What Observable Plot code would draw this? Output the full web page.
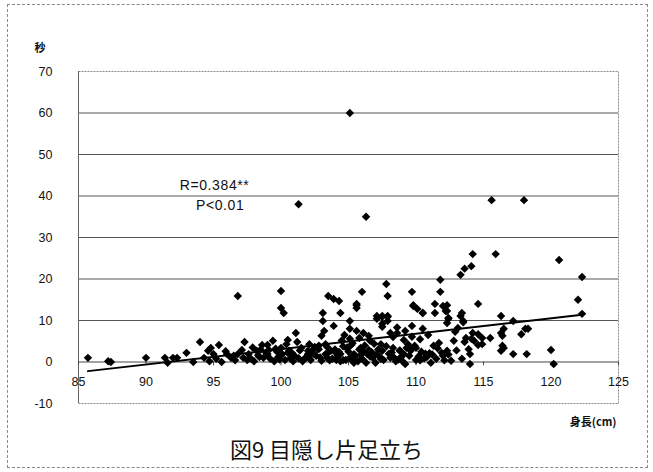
<!DOCTYPE html>
<html>
<head>
<meta charset="utf-8">
<script src="https://cdn.jsdelivr.net/npm/d3@7"></script>
<script src="https://cdn.jsdelivr.net/npm/@observablehq/plot@0.6"></script>
<style>
  html, body { margin: 0; padding: 0; background: #fff; }
  #page { position: relative; width: 653px; height: 472px; overflow: hidden; }
  #border { position: absolute; left: 7px; top: 4px; width: 641px; height: 464px; border: 1px dashed #888; box-sizing: border-box; }
  #chart { position: absolute; left: 0; top: 0; }
  #title { position: absolute; left: 0; width: 653px; top: 432px; text-align: center;
           font-family: "Noto Sans CJK JP", "Noto Sans", sans-serif; font-size: 22px; color: #111; }
</style>
</head>
<body>
<div id="page">
  <div id="border"></div>
  <div id="chart"></div>
  <div id="title">図9 目隠し片足立ち</div>
</div>
<script>
// 身長 (cm) and 秒 for each child
const heights = [
  85.7, 87.2, 87.4, 90, 91.4, 91.6, 92, 92.3, 93, 93.5, 94, 94.3, 94.6, 94.7, 94.8, 95, 95.4, 95.6,
  96, 96.3, 96.5, 96.8, 96.8, 97.2, 97.3, 97.6, 98, 98.2, 98.4, 98.6, 98.7, 99, 99, 99.4, 99.5, 99.7,
  100, 100, 100.2, 100, 100.1, 100.4, 100.6, 100.5, 100.9, 101.1, 101.3, 101.6, 101.5, 102, 102.1, 102.4,
  102.8, 103.1, 103.2, 103.3, 103.5, 103.9, 104.3, 104.4, 103.1, 103.9, 103.0, 105.1, 105.1, 105.6, 105.6,
  105.6, 104.4, 105.1, 105.7,
  97.5, 98.5, 99.2, 99.8, 100.3, 101, 101.2, 101.8, 102.2, 102.6, 103, 103.5, 103.8, 104, 104.2, 104.6,
  104.8, 105, 105.3, 105.5, 105.8, 106, 106.2, 106.4, 106.8, 107.2, 107.6, 108, 108.4, 108.8, 109, 109.5,
  110, 110.4, 110.8, 111.5, 112, 112.6, 113, 113.4,
  106, 107.8, 107.9, 109.7, 109.8, 110.5, 106.1, 106.5, 107.1, 107.5, 107.9, 107.5, 107.9, 108.1, 108.6,
  108.3, 107.4, 106.6, 105.9, 105.4, 106.4, 107.1, 107.5, 108.3, 108.8, 109.4, 109.6, 110, 110.2, 109.1,
  108.1, 109.2, 107, 106.3, 105.4, 104.6, 104.4, 104.1, 103.7, 103.3, 102.8, 102.3, 102, 110.3, 110.5,
  109.7, 109.2, 111.1, 111.3, 111.7, 112.3, 112.8, 111.8, 111.8, 111.4, 111.4, 112, 112.3, 112.4, 112.3,
  113.1, 113.3, 113.7, 114.2, 114.3, 113.9, 114, 114, 113.4, 113.5, 113.6, 114.6, 114.2, 115.9, 115.6,
  118, 114.9, 115.5, 114.9, 114.6, 116.3, 116.4, 116.5, 116.3, 116.3, 117.2, 118.1, 118.3, 117.8, 116.5,
  116.4, 117.2, 118.2, 120, 120.2, 120.6, 122.3, 122, 122.3, 106.3, 105.1,
  114.1, 105.6, 109.8, 110.1, 110.5, 112.3, 112.2, 112.4, 113.3, 113.5, 107.1, 107.5, 107.9, 107.5,
  104.7, 105.1, 108.6, 109.1, 109.7, 110.9, 112.9, 113.6, 114.1, 114.6,
  100.8, 101.9, 102.5, 103.6, 104.9, 105.2, 106.7, 107.8, 108.7, 109.9, 110.6, 111.9, 112.1,
  97.9, 98.9, 99.6, 100.7, 101.4, 102.9, 103.4, 104.3, 105.9, 106.9, 107.3, 108.5, 109.3, 110.7, 111.2,
  95.2, 95.9, 96.6, 97.1, 97.8, 98.3, 99.1, 99.9, 100.5, 101.3, 102.1, 102.7, 103.4, 104.1, 104.9,
  105.4, 106.1, 106.6, 107.4, 108.2, 108.9, 109.6, 110.3, 111, 111.6, 112.4, 104.5, 105.2, 105.8, 106.5
];
const seconds = [
  1, 0.2, 0, 1, 1, -0.2, 1, 1, 2.2, 0, 4.8, 1, 2.7, 0.2, 3.4, 1.9, 4.1, 0,
  1.9, 1, 1.5, 15.9, 1.9, 1, 4.8, 1.9, 0.2, 2.7, 1.2, 4.1, 1, 1.9, 4.1, 5.1, 0.2, 2.5,
  17.1, 13, 11.8, 3.4, 1.9, 4.3, 2.7, 5.3, 0.2, 7, 38, 0.2, 3.4, 2.7, 4.3, 2,
  3.9, 9.9, 7.5, 4.3, 15.9, 15.2, 14.7, 11.8, 11.8, 8.7, 6.3, 9.9, 8, 14, 13,
  7.5, 0.2, 1, 0.2,
  0.5, 3, 0.8, 1.2, 0.5, 1.5, 4.8, 1, 0.5, 1.5, 0.3, 2.3, 0.8, 3, 1.5, 3.8,
  0.5, 2.5, 4.5, 1.5, 3, 0.8, 4, 2, 1, 3, 0.5, 2, 1, 2.8, 0.2, 1.5,
  0.5, 2.5, 1.2, 0.8, 1.5, 0.3, 2.8, 0.8,
  16.9, 18.8, 15.9, 16.9, 13.5, 11.8, 7, 6.3, 11.1, 11.1, 11.1, 9.2, 9.9, 7, 7,
  6, 4.3, 5.1, 3.4, 1.9, 1.9, 1.9, 2.7, 3.4, 2.7, 4.3, 2.7, 3.4, 1.4, 1.9,
  1, -0.5, -0.2, -0.2, -0.2, 0.5, 1.9, 0.5, 2.7, 1.9, 3.1, 2.7, 1.9, 5.5, 8,
  8.7, 7.5, -0.2, 3.9, 4.6, 2.7, 5.1, 19.8, 16.9, 14, 11.8, 13.5, 12.3, 10.6, 9.4,
  8.2, 21, 5.8, 7, 5.1, 3.1, 1.9, -0.5, 11.8, 9.9, 22.5, 14, 26, 26, 39,
  39, 5.8, 5.8, 4.3, 6.7, 7, 3.9, 3.4, 2.7, 11.1, 9.9, 8, 8, 6.7, 8,
  6.3, 1.9, 1.9, 2.9, -0.5, 24.6, 20.5, 15, 11.6, 35, 60,
  23.1, 13.7, 13.7, 12.8, 11.8, 13.7, 12.3, 10.4, 11.1, 9.6, 10.4, 10.9, 10.9, 8.5,
  6.5, 5.6, 8.3, 5.3, 6.1, 6.5, 7.3, 4.8, 5.6, 4.1,
  2.2, 1.2, 3.6, 0.4, 3.2, 0.6, 2.4, 3.8, 0.6, 3.9, 0.9, 2.2, 0.4,
  3.5, 2.2, 3.2, 0.9, 2.8, 1.1, 3.7, 2.4, 1.6, 4.4, 1.3, 0.2, 3.4, 2, 1.8,
  0.8, 2.6, 0.4, 2.9, 0.7, 1.6, 2.9, 0.6, 2.2, 0.9, 1.4, 3.2, 1.1, 2.1, 3.5,
  0.4, 2.5, 1.3, 0.7, 2.3, 1.2, 3.1, 0.4, 2.1, 3.3, 1.8, 5.2, 4.1, 5.8, 2.9
];
const points = heights.map((h, i) => ({height: h, sec: seconds[i]}));

// fitted trend line, end to end
const trendHeight = [85.7, 122.3];
const trendSec = [-2.2, 11.4];
const trend = trendHeight.map((h, i) => ({height: h, sec: trendSec[i]}));

const xTicks = [85, 90, 95, 100, 105, 110, 115, 120, 125];
const yTicks = [-10, 0, 10, 20, 30, 40, 50, 60, 70];
const gridLines = [10, 20, 30, 40, 50, 60];

const noteText = ["R=0.384**", "P<0.01"];
const noteHeight = [92.5, 93.7];
const noteSec = [42.6, 37.6];
const notes = noteText.map((t, i) => ({text: t, height: noteHeight[i], sec: noteSec[i]}));

const tickFont = "'Liberation Sans', Arial, sans-serif";

const chart = Plot.plot({
  width: 653,
  height: 440,
  marginLeft: 78,
  marginRight: 35,
  marginTop: 71,
  marginBottom: 37,
  style: {background: "transparent", fontFamily: tickFont, fontSize: "12px", color: "#111"},
  x: {domain: [85, 125], axis: null},
  y: {domain: [-10, 70], axis: null},
  marks: [
    Plot.frame({stroke: "#8a8a8a", strokeDasharray: "2,1"}),
    Plot.ruleY(gridLines, {stroke: "#555", strokeWidth: 1}),
    Plot.ruleY([0], {stroke: "#444", strokeWidth: 1}),
    Plot.ruleX([85], {y1: -10, y2: 70, stroke: "#666", strokeWidth: 1}),
    Plot.ruleX(xTicks, {x: d => d, y1: 0, y2: -0.9, stroke: "#444"}),
    Plot.text(yTicks, {x: 85, y: d => d, text: d => String(d),
      textAnchor: "end", dx: -26, fontSize: 12.5, fill: "#111"}),
    Plot.text(xTicks, {x: d => d, y: 0, text: d => String(d), dy: 20, fontSize: 12.5, fill: "#111"}),
    Plot.dot(points, {x: "height", y: "sec", symbol: "diamond2", r: 3.8, fill: "#000", stroke: "none"}),
    Plot.line(trend, {x: "height", y: "sec", stroke: "#000", strokeWidth: 2}),
    Plot.text(notes, {x: "height", y: "sec", text: "text", textAnchor: "start",
      fontSize: 14, fontFamily: "'Liberation Sans', Arial, sans-serif", fill: "#111",
      style: "letter-spacing: 0.6px"}),
    Plot.text(["秒"], {frameAnchor: "top-left", text: d => d, dx: -44, dy: -27, textAnchor: "start",
      fontSize: 11, fontWeight: "bold", fontFamily: "'Noto Sans CJK JP', sans-serif", fill: "#111"}),
    Plot.text(["身長(cm)"], {frameAnchor: "bottom-right", text: d => d, dx: -2, dy: 22, textAnchor: "end",
      fontSize: 11, fontWeight: "bold", fontFamily: "'Noto Sans CJK JP', sans-serif", fill: "#111"})
  ]
});
document.getElementById("chart").appendChild(chart);
document.querySelectorAll("#chart text").forEach(t => {
  if (t.textContent.startsWith("R=") || t.textContent.startsWith("P<")) t.style.letterSpacing = "0.6px";
});
</script>
</body>
</html>
